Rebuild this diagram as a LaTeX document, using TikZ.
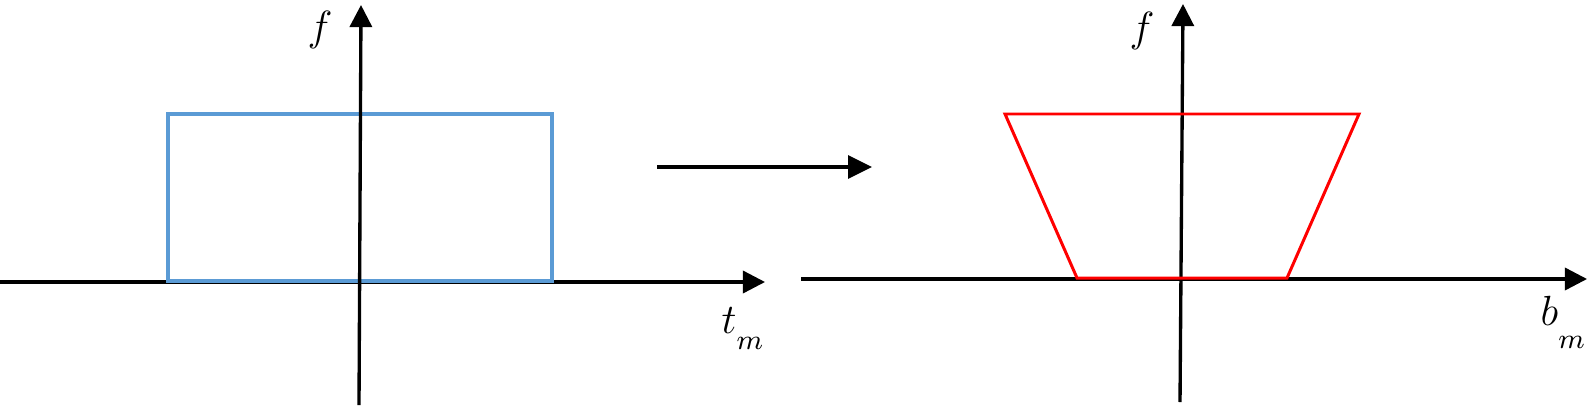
\documentclass[tikz,border=0pt]{standalone}
\usetikzlibrary{arrows.meta}
\definecolor{boxblue}{RGB}{91,155,213}
\begin{document}
\begin{tikzpicture}[x=0.01cm,y=-0.01cm,
  axis/.style={line width=0.95pt,-{Triangle[length=6.3pt,width=6.3pt]}},
  lbl/.style={inner sep=0pt,font=\large}]
\useasboundingbox (0,0) rectangle (1589,412);

% left panel
\coordinate (lx0) at (0,282);
\coordinate (lx1) at (765,282);
\coordinate (ly0) at (359,405);
\coordinate (ly1) at (361,5);
\draw[axis] (lx0)--(lx1);
\draw[boxblue,line width=0.9pt] (168,114) rectangle (552,281);
\draw[axis] (ly0)--(ly1);
\node[lbl] (lf) at (320,30) {$f$};
\node[lbl,anchor=base west] (ltm) at (721,333) {$t_{\raisebox{-3pt}{$\scriptstyle m$}}$};

% mapping arrow
\coordinate (m0) at (657,167);
\coordinate (m1) at (872,167);
\draw[line width=0.95pt,-{Triangle[length=6.8pt,width=6.5pt]}] (m0)--(m1);

% right panel
\coordinate (rx0) at (801,279);
\coordinate (rx1) at (1587,279);
\coordinate (ry0) at (1180,402);
\coordinate (ry1) at (1183,4);
\draw[axis] (rx0)--(rx1);
\draw[axis] (ry0)--(ry1);
\draw[red,line width=0.85pt] (1005,114)--(1359,114)--(1287,278)--(1077,278)--cycle;
\node[lbl] (rf) at (1142,31) {$f$};
\node[lbl,anchor=base west] (rbm) at (1540,325) {$b_{\raisebox{-4.9pt}{$\scriptstyle m$}}$};
\end{tikzpicture}
\end{document}
